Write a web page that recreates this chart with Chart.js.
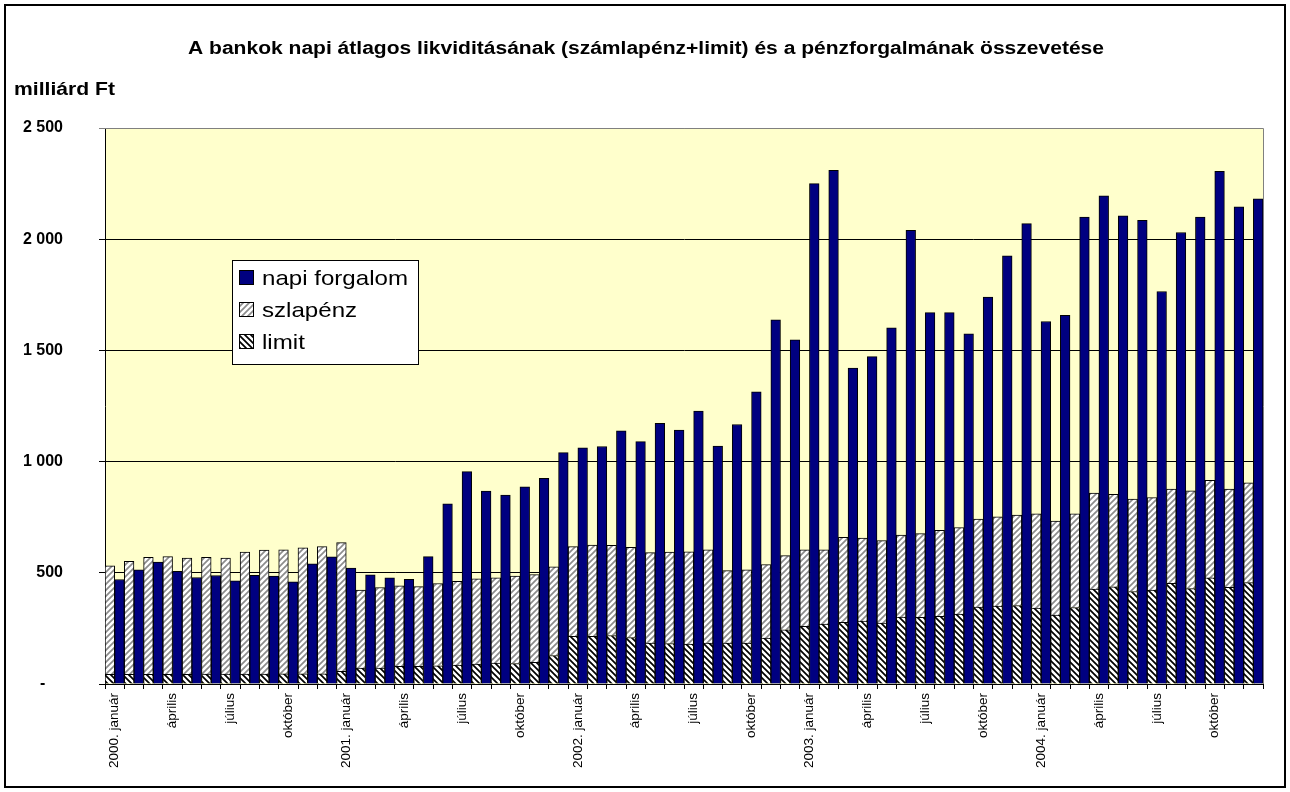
<!DOCTYPE html>
<html>
<head>
<meta charset="utf-8">
<script src="https://cdn.jsdelivr.net/npm/chart.js@4.4.1/dist/chart.umd.min.js"></script>
<style>
  body { margin: 0; background: #fff; }
</style>
</head>
<body>
<canvas id="myChart" width="1290" height="792"></canvas>
<script>
// months 2000 jan - 2004 dec, only every 3rd month gets a label
var years = [2000, 2001, 2002, 2003, 2004];
var monthNames = ["január", "", "", "április", "", "", "július", "", "", "október", "", ""];

// milliárd Ft
var napiForgalom = [
  470, 513, 548, 507, 479, 488, 464, 489, 485, 459, 540, 572,
  521, 491, 477, 471, 573, 810, 955, 868, 849, 887, 925, 1040,
  1062, 1068, 1138, 1090, 1172, 1142, 1227, 1070, 1167, 1314, 1638, 1548,
  2250, 2310, 1420, 1472, 1602, 2040, 1670, 1670, 1575, 1740, 1925, 2070,
  1630, 1658, 2100, 2195, 2105, 2085, 1765, 2030, 2100, 2305, 2145, 2182
];
var szlapenz = [
  488, 509, 525, 529, 522, 524, 521, 548, 557, 557, 566, 572,
  579, 350, 362, 362, 359, 370, 377, 383, 383, 393, 395, 399,
  404, 411, 405, 406, 407, 411, 414, 419, 326, 329, 331, 333,
  344, 334, 383, 373, 371, 369, 376, 387, 389, 395, 402, 407,
  424, 423, 421, 431, 416, 416, 416, 424, 440, 439, 442, 448
];
var limit = [
  43, 43, 44, 44, 44, 45, 45, 45, 45, 46, 46, 46,
  57, 72, 72, 79, 79, 82, 85, 90, 94, 92, 97, 128,
  214, 214, 218, 209, 184, 182, 180, 184, 184, 184, 206, 244,
  259, 269, 277, 283, 274, 301, 300, 304, 314, 346, 350, 353,
  341, 310, 344, 427, 437, 416, 422, 453, 429, 477, 435, 456
];

var labels = [];
years.forEach(function (y) {
  monthNames.forEach(function (m, i) {
    if (m === "") labels.push("");
    else labels.push(i === 0 ? y + ". " + m : m);
  });
});

var FONT = 'Arial, "Liberation Sans", sans-serif';
var canvas = document.getElementById("myChart");
var mainCtx = canvas.getContext("2d");

// diagonal hatch fill like the excel patterns
function makeHatch(lineColor, forward) {
  var size = 6;
  var c = document.createElement("canvas");
  c.width = size;
  c.height = size;
  var g = c.getContext("2d");
  g.fillStyle = "#fff";
  g.fillRect(0, 0, size, size);
  g.strokeStyle = lineColor;
  g.lineWidth = 1.7;
  g.beginPath();
  if (forward) {
    g.moveTo(-1, size + 1); g.lineTo(size + 1, -1);
    g.moveTo(-1, 1); g.lineTo(1, -1);
    g.moveTo(size - 1, size + 1); g.lineTo(size + 1, size - 1);
  } else {
    g.moveTo(-1, -1); g.lineTo(size + 1, size + 1);
    g.moveTo(size - 1, -1); g.lineTo(size + 1, 1);
    g.moveTo(-1, size - 1); g.lineTo(1, size + 1);
  }
  g.stroke();
  return mainCtx.createPattern(c, "repeat");
}

var szlaPattern = makeHatch("#8c8c8c", true);
var limitPattern = makeHatch("#000", false);
var navy = "#000080";

function fmtTick(value) {
  if (value === 0) return "-\u2007\u2007";
  return value >= 1000 ? Math.floor(value / 1000) + " " + String(value % 1000).padStart(3, "0") : String(value);
}

// the excel texts come out a bit wider than the font, so stretch them
function wideText(ctx, text, x, y, sx, align) {
  ctx.save();
  ctx.translate(x, y);
  ctx.scale(sx, 1);
  ctx.textAlign = align;
  ctx.fillText(text, 0, 0);
  ctx.restore();
}

// background, frame and texts
var framePlugin = {
  id: "frame",
  beforeDraw: function (chart) {
    var ctx = chart.ctx, a = chart.chartArea;
    var title = "A bankok napi átlagos likviditásának (számlapénz+limit) és a pénzforgalmának összevetése";
    ctx.save();
    ctx.fillStyle = "#fff";
    ctx.fillRect(0, 0, chart.width, chart.height);
    ctx.strokeStyle = "#000";
    ctx.lineWidth = 2;
    ctx.strokeRect(5, 5, chart.width - 10, chart.height - 10);
    ctx.fillStyle = "#ffffcc";
    ctx.fillRect(a.left, a.top, a.right - a.left, a.bottom - a.top);
    ctx.fillStyle = "#000";
    ctx.textBaseline = "alphabetic";
    ctx.font = "bold 18px " + FONT;
    wideText(ctx, title, 646, 54, 916 / ctx.measureText(title).width, "center");
    wideText(ctx, "milliárd Ft", 14, 95, 101 / ctx.measureText("milliárd Ft").width, "left");
    ctx.restore();
  },
  afterDraw: function (chart) {
    var ctx = chart.ctx, a = chart.chartArea;
    ctx.save();
    // plot border top and right
    ctx.strokeStyle = "#808080";
    ctx.lineWidth = 1;
    ctx.beginPath();
    ctx.moveTo(a.left, a.top + 0.5);
    ctx.lineTo(a.right + 0.5, a.top + 0.5);
    ctx.lineTo(a.right + 0.5, a.bottom);
    ctx.stroke();

    // legend box inside plot
    var bx = 232, by = 260, bw = 186, bh = 104;
    ctx.fillStyle = "#fff";
    ctx.fillRect(bx, by, bw, bh);
    ctx.strokeStyle = "#000";
    ctx.strokeRect(bx + 0.5, by + 0.5, bw, bh);
    var items = [
      { text: "napi forgalom", fill: navy },
      { text: "szlapénz", fill: szlaPattern },
      { text: "limit", fill: limitPattern }
    ];
    ctx.font = "21px " + FONT;
    ctx.textBaseline = "alphabetic";
    var sx = 146 / ctx.measureText("napi forgalom").width;
    items.forEach(function (it, i) {
      var y = by + 10 + i * 32;
      ctx.fillStyle = it.fill;
      ctx.fillRect(bx + 7, y, 15, 15);
      ctx.strokeStyle = "#000";
      ctx.lineWidth = 1;
      ctx.strokeRect(bx + 7.5, y + 0.5, 14, 14);
      ctx.fillStyle = "#000";
      wideText(ctx, it.text, bx + 30, y + 15, sx, "left");
    });
    ctx.restore();
  }
};

new Chart(canvas, {
  type: "bar",
  data: {
    labels: labels,
    datasets: [
      {
        label: "limit",
        data: limit,
        stack: "likviditas",
        backgroundColor: limitPattern,
        borderColor: "#000",
        borderWidth: 1
      },
      {
        label: "szlapénz",
        data: szlapenz,
        stack: "likviditas",
        backgroundColor: szlaPattern,
        borderColor: "#000",
        borderWidth: 1
      },
      {
        label: "napi forgalom",
        data: napiForgalom,
        stack: "forgalom",
        backgroundColor: navy,
        borderColor: "#000",
        borderWidth: 1
      }
    ]
  },
  options: {
    responsive: false,
    animation: false,
    barPercentage: 1,
    categoryPercentage: 1,
    layout: { padding: { top: 128, right: 27, left: 0, bottom: 0 } },
    plugins: {
      legend: { display: false },
      title: { display: false },
      tooltip: { enabled: false }
    },
    scales: {
      x: {
        stacked: true,
        offset: true,
        grid: { offset: true, drawOnChartArea: false, color: "#000", tickLength: 5 },
        border: { color: "#000", width: 1 },
        ticks: {
          autoSkip: false,
          maxRotation: 90,
          minRotation: 90,
          padding: 4,
          color: "#000",
          font: { family: FONT, size: 13.5 }
        },
        afterFit: function (scale) { scale.height = 108; }
      },
      y: {
        stacked: true,
        min: 0,
        max: 2500,
        ticks: {
          stepSize: 500,
          padding: 36,
          color: "#000",
          font: { family: FONT, size: 16, weight: "bold" },
          callback: fmtTick
        },
        grid: {
          color: function (c) { return c.tick && c.tick.value === 2500 ? "#808080" : "#000"; },
          tickLength: 6
        },
        border: { color: "#000", width: 1 },
        afterFit: function (scale) { scale.width = 105; }
      }
    }
  },
  plugins: [framePlugin]
});
</script>
</body>
</html>
